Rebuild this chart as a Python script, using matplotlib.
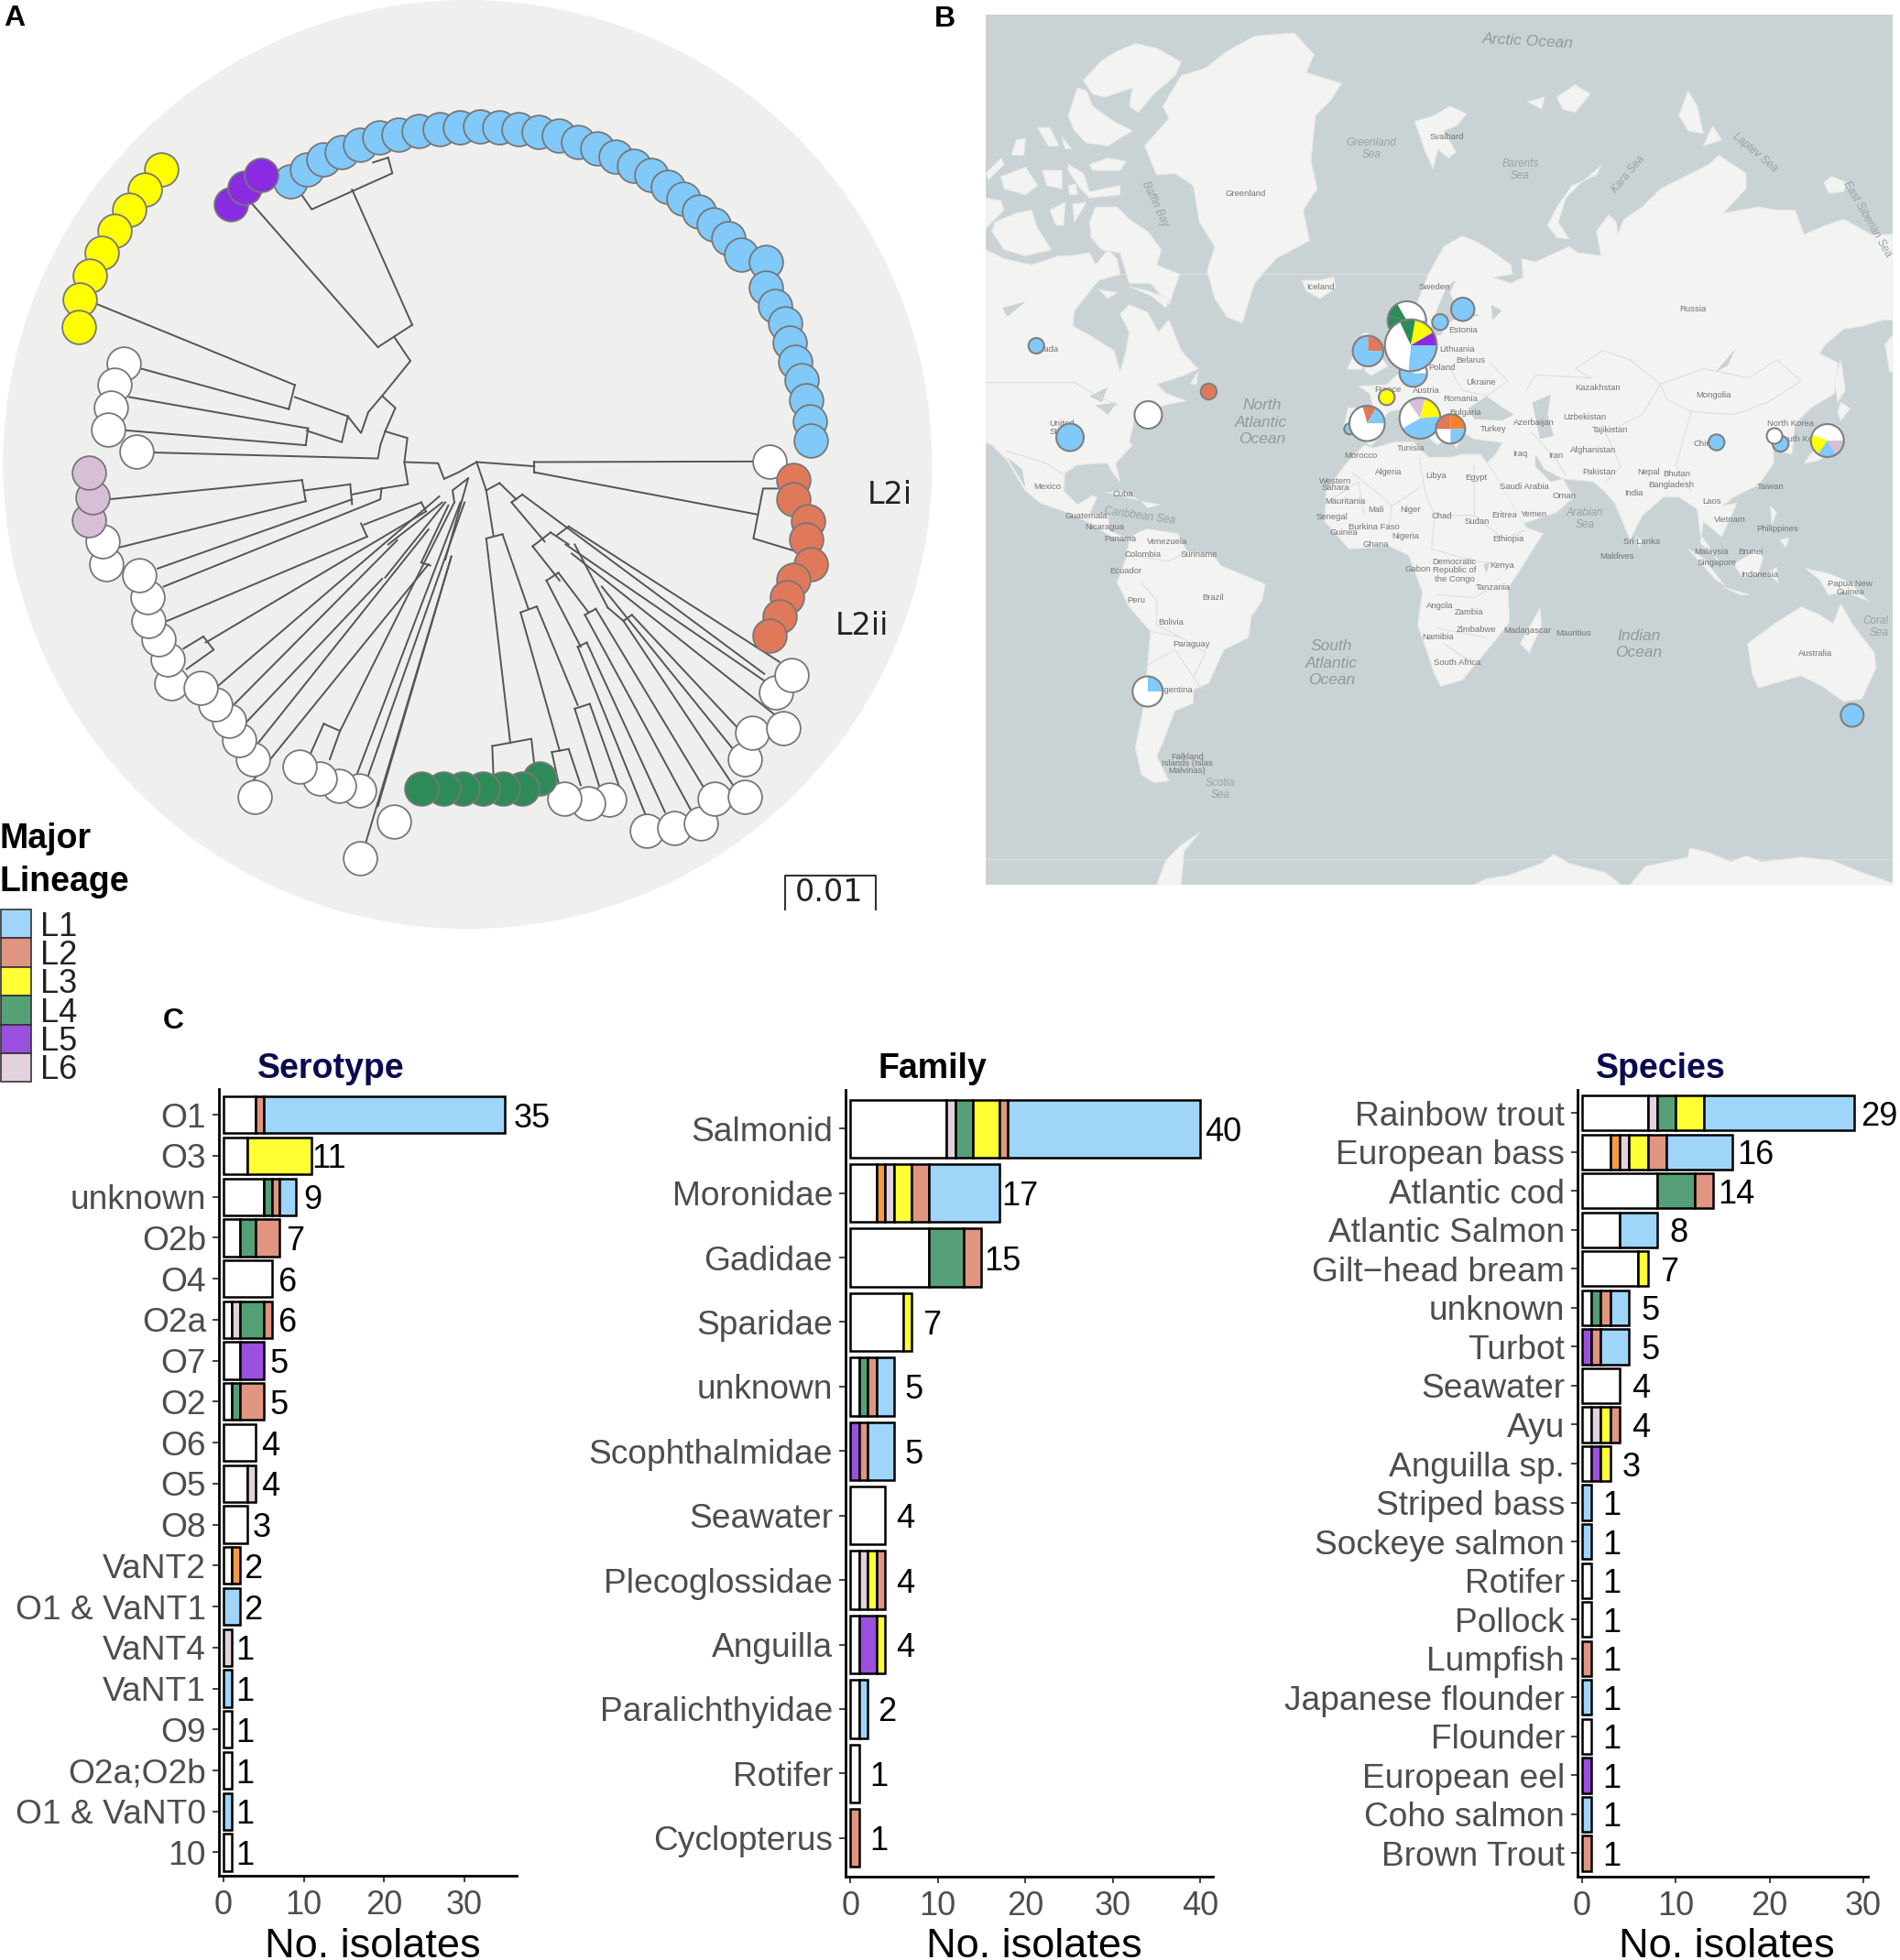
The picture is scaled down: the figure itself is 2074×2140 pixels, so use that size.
# %%
# Vibrio anguillarum style figure: tree, map and three stacked bar panels
import matplotlib
matplotlib.use('Agg')
import matplotlib.pyplot as plt
from matplotlib.patches import Circle, Polygon, Rectangle, Wedge

W, H = 2074, 2140
plt.rcParams['font.family'] = ['Liberation Sans', 'DejaVu Sans']

# %%
# Colours
tree_col = {'L1': '#81c9f9', 'L2': '#e0795a', 'L3': '#ffff00', 'L4': '#2e8b57',
            'L5': '#8a2be2', 'L6': '#d8bfd8', 'none': '#ffffff', 'orange': '#f5822a'}
bar_col = ['#ffffff', '#f79a44', '#e2d2de', '#9b50e0', '#55a077', '#ffff33', '#e09580', '#9fd5f9']
legend_names = ['L1', 'L2', 'L3', 'L4', 'L5', 'L6']
legend_cols = ['#9fd5f9', '#e09580', '#ffff33', '#55a077', '#9b50e0', '#e2d2de']

# %%
# Panel C data, stacks go white, orange, L6, L5, L4, L3, L2, L1
sero_names = ['O1', 'O3', 'unknown', 'O2b', 'O4', 'O2a', 'O7', 'O2', 'O6', 'O5', 'O8', 'VaNT2',
              'O1 & VaNT1', 'VaNT4', 'VaNT1', 'O9', 'O2a;O2b', 'O1 & VaNT0', '10']
sero_white = [4, 3, 5, 2, 6, 1, 2, 1, 4, 3, 3, 1, 0, 0, 0, 1, 1, 0, 1]
sero_orange = [0, 0, 0, 0, 0, 0, 0, 0, 0, 0, 0, 1, 0, 0, 0, 0, 0, 0, 0]
sero_l6 = [0, 0, 0, 0, 0, 1, 0, 0, 0, 1, 0, 0, 0, 1, 0, 0, 0, 0, 0]
sero_l5 = [0, 0, 0, 0, 0, 0, 3, 0, 0, 0, 0, 0, 0, 0, 0, 0, 0, 0, 0]
sero_l4 = [0, 0, 1, 2, 0, 3, 0, 1, 0, 0, 0, 0, 0, 0, 0, 0, 0, 0, 0]
sero_l3 = [0, 8, 0, 0, 0, 0, 0, 0, 0, 0, 0, 0, 0, 0, 0, 0, 0, 0, 0]
sero_l2 = [1, 0, 1, 3, 0, 1, 0, 3, 0, 0, 0, 0, 0, 0, 0, 0, 0, 0, 0]
sero_l1 = [30, 0, 2, 0, 0, 0, 0, 0, 0, 0, 0, 0, 2, 0, 1, 0, 0, 1, 0]

fam_names = ['Salmonid', 'Moronidae', 'Gadidae', 'Sparidae', 'unknown', 'Scophthalmidae', 'Seawater',
             'Plecoglossidae', 'Anguilla', 'Paralichthyidae', 'Rotifer', 'Cyclopterus']
fam_white = [11, 3, 9, 6, 1, 0, 4, 1, 1, 1, 1, 0]
fam_orange = [0, 1, 0, 0, 0, 0, 0, 0, 0, 0, 0, 0]
fam_l6 = [1, 1, 0, 0, 0, 0, 0, 1, 0, 0, 0, 0]
fam_l5 = [0, 0, 0, 0, 0, 1, 0, 0, 2, 0, 0, 0]
fam_l4 = [2, 0, 4, 0, 1, 0, 0, 0, 0, 0, 0, 0]
fam_l3 = [3, 2, 0, 1, 0, 0, 0, 1, 1, 0, 0, 0]
fam_l2 = [1, 2, 2, 0, 1, 1, 0, 1, 0, 0, 0, 1]
fam_l1 = [22, 8, 0, 0, 2, 3, 0, 0, 0, 1, 0, 0]

spec_names = ['Rainbow trout', 'European bass', 'Atlantic cod', 'Atlantic Salmon', 'Gilt\u2212head bream',
              'unknown', 'Turbot', 'Seawater', 'Ayu', 'Anguilla sp.', 'Striped bass', 'Sockeye salmon',
              'Rotifer', 'Pollock', 'Lumpfish', 'Japanese flounder', 'Flounder', 'European eel',
              'Coho salmon', 'Brown Trout']
spec_white = [7, 3, 8, 4, 6, 1, 0, 4, 1, 1, 0, 0, 1, 1, 0, 0, 1, 0, 0, 0]
spec_orange = [0, 1, 0, 0, 0, 0, 0, 0, 0, 0, 0, 0, 0, 0, 0, 0, 0, 0, 0, 0]
spec_l6 = [1, 1, 0, 0, 0, 0, 0, 0, 1, 0, 0, 0, 0, 0, 0, 0, 0, 0, 0, 0]
spec_l5 = [0, 0, 0, 0, 0, 0, 1, 0, 0, 1, 0, 0, 0, 0, 0, 0, 0, 1, 0, 0]
spec_l4 = [2, 0, 4, 0, 0, 1, 0, 0, 0, 0, 0, 0, 0, 0, 0, 0, 0, 0, 0, 0]
spec_l3 = [3, 2, 0, 0, 1, 0, 0, 0, 1, 1, 0, 0, 0, 0, 0, 0, 0, 0, 0, 0]
spec_l2 = [0, 2, 2, 0, 0, 1, 1, 0, 1, 0, 0, 0, 0, 0, 1, 0, 0, 0, 0, 1]
spec_l1 = [16, 7, 0, 4, 0, 2, 3, 0, 0, 0, 1, 1, 0, 0, 0, 1, 0, 0, 1, 0]

# %%
# Panel A tips
tips_l1_x = [482, 510, 538, 568, 598, 630, 662, 695, 731, 764, 797, 830, 862, 895, 928, 961, 992, 1023,
             1053, 1083, 1110, 1136, 1161, 1186, 1210, 1232, 1272, 1272, 1288, 1304, 1312, 1322, 1332,
             1340, 1345, 1347]
tips_l1_y = [302, 282, 265, 252, 240, 229, 224, 218, 214, 211, 210, 211, 215, 219, 226, 236, 247, 261,
             276, 291, 310, 330, 351, 373, 396, 423, 436, 478, 508, 538, 570, 601, 632, 665, 700, 733]
tips_l3_x = [268, 241, 215, 191, 169, 149, 133, 131]
tips_l3_y = [282, 315, 349, 384, 420, 458, 498, 543]
tips_l5_x = [384, 407, 434]
tips_l5_y = [340, 312, 291]
tips_l6_x = [148, 153, 148]
tips_l6_y = [864, 826, 786]
tips_l4_x = [897, 868, 835, 802, 769, 737, 701]
tips_l4_y = [1294, 1310, 1310, 1310, 1310, 1310, 1310]
tips_l2_x = [1318, 1318, 1343, 1340, 1347, 1318, 1307, 1296, 1278]
tips_l2_y = [798, 830, 866, 897, 937, 964, 993, 1024, 1056]
tips_none_x = [206, 190, 184, 179, 227, 176, 170, 284, 279, 264, 246, 245, 232, 420, 398, 380, 358, 334,
               423, 596, 563, 531, 498, 654, 598, 1013, 977, 937, 1075, 1120, 1165, 1187, 1237, 1237,
               1250, 1301, 1289, 1315, 1278]
tips_none_y = [604, 640, 678, 714, 750, 938, 900, 1136, 1096, 1062, 1032, 992, 956, 1262, 1230, 1198, 1170,
               1144, 1324, 1314, 1306, 1294, 1274, 1365, 1427, 1329, 1335, 1327, 1380, 1376, 1369, 1327,
               1325, 1262, 1218, 1211, 1151, 1122, 767]

tree_lines = [
    [(792, 768), (888, 775)], [(888, 768), (888, 785)], [(888, 768), (1255, 767)], [(888, 785), (1258, 855)],
    [(1292, 812), (1268, 812), (1252, 895), (1318, 915)],
    [(792, 768), (762, 785), (738, 796), (728, 770), (672, 768)],
    [(640, 717), (677, 728), (672, 768), (678, 805), (634, 812)],
    [(640, 717), (632, 740), (628, 762), (250, 752)],
    [(640, 717), (657, 678), (635, 658), (612, 685), (600, 720), (578, 692)],
    [(635, 658), (682, 600), (655, 560)],
    [(685, 540), (628, 577)], [(685, 540), (585, 315)], [(628, 577), (420, 340)],
    [(645, 262), (652, 288), (518, 348), (500, 322)], [(645, 262), (620, 270)], [(500, 322), (485, 320)],
    [(578, 692), (568, 735), (510, 716)], [(578, 692), (490, 660)], [(490, 640), (480, 680)],
    [(490, 640), (160, 505)], [(480, 680), (232, 612)],
    [(512, 712), (508, 740)], [(512, 712), (215, 660)], [(508, 740), (205, 715)],
    [(634, 812), (585, 822)], [(582, 805), (585, 838)], [(582, 805), (507, 815)],
    [(502, 798), (508, 833)], [(502, 798), (180, 830)], [(508, 833), (198, 910)],
    [(585, 830), (262, 945)], [(634, 812), (632, 830), (272, 975)],
    [(700, 835), (605, 872)], [(600, 870), (610, 892)], [(610, 892), (278, 1032)],
    [(700, 835), (708, 850), (342, 1068)],
    [(338, 1058), (355, 1080), (310, 1112)], [(338, 1058), (305, 1078)],
    [(730, 825), (360, 1142)],
    [(660, 898), (385, 1175)], [(735, 835), (645, 905)], [(635, 962), (405, 1205)],
    [(712, 880), (425, 1240)], [(740, 835), (640, 960)],
    [(745, 840), (700, 935)], [(712, 938), (420, 1298)], [(700, 935), (715, 940)],
    [(755, 835), (565, 1215)], [(538, 1203), (565, 1215), (548, 1262)], [(538, 1203), (515, 1255)],
    [(765, 835), (590, 1295)], [(772, 835), (608, 1300)], [(750, 925), (628, 1340)],
    [(778, 795), (752, 815), (755, 835)], [(778, 795), (740, 930)], [(750, 925), (608, 1400)],
    [(792, 768), (808, 815)], [(808, 815), (830, 803)], [(808, 815), (820, 890)],
    [(808, 895), (835, 888)], [(808, 895), (848, 1235)], [(835, 888), (878, 1012)],
    [(818, 1240), (883, 1228), (890, 1290)], [(818, 1240), (820, 1290)],
    [(865, 1018), (892, 1008)], [(865, 1018), (930, 1248)], [(892, 1008), (960, 1172)],
    [(917, 1250), (945, 1245)], [(917, 1250), (930, 1310)], [(945, 1245), (965, 1305)],
    [(955, 1178), (980, 1170)], [(955, 1178), (1000, 1320)], [(980, 1170), (1030, 1310)],
    [(830, 803), (858, 830)], [(850, 835), (868, 822)], [(868, 822), (1270, 1120)],
    [(850, 835), (905, 900)], [(885, 908), (915, 885)], [(885, 908), (930, 965)],
    [(915, 885), (945, 905)], [(945, 875), (1295, 1100)], [(940, 905), (1275, 1135)],
    [(945, 875), (925, 890)], [(908, 965), (928, 952)], [(908, 965), (965, 1075)],
    [(928, 952), (978, 1018)], [(960, 1075), (975, 1068)], [(960, 1075), (1075, 1360)],
    [(975, 1068), (1105, 1350)], [(972, 1022), (990, 1012)], [(972, 1022), (1150, 1350)],
    [(990, 1012), (1170, 1310)], [(1036, 1032), (1050, 1022)], [(1036, 1032), (1218, 1305)],
    [(1050, 1022), (1240, 1225)], [(1010, 1010), (1036, 1032)], [(1000, 975), (1222, 1250)],
    [(950, 920), (1290, 1190)], [(955, 905), (1010, 1010)],
]

# %%
# Panel B land outlines and place names
land = [
    # north america
    [(0, 770), (60, 800), (150, 820), (240, 790), (280, 790), (340, 780), (360, 820), (400, 770), (430, 800),
     (440, 850), (370, 870), (330, 920), (290, 970), (285, 1020), (340, 1050), (420, 1100), (440, 1170), (460, 1100),
     (470, 1040), (440, 980), (470, 950), (530, 975), (565, 1040), (600, 1000), (640, 1100), (695, 1160), (640, 1185),
     (560, 1210), (590, 1240), (655, 1265), (560, 1285), (490, 1310), (470, 1400), (480, 1410), (425, 1470), (440, 1530),
     (415, 1500), (400, 1470), (360, 1470), (300, 1475), (260, 1500), (255, 1560), (300, 1605), (350, 1575), (365, 1580),
     (340, 1635), (400, 1640), (405, 1690), (470, 1720), (410, 1710), (350, 1670), (280, 1635), (180, 1600), (130, 1560),
     (70, 1460), (20, 1410), (0, 1400)],
    # arctic canada
    [(320, 215), (380, 150), (430, 120), (490, 95), (560, 110), (640, 155), (620, 200), (550, 260), (500, 320), (470, 300),
     (480, 240), (390, 270), (350, 260)],
    [(270, 330), (300, 240), (330, 250), (350, 300), (420, 350), (480, 380), (400, 430), (330, 420), (290, 380)],
    [(340, 490), (400, 470), (460, 480), (440, 510), (350, 510)],
    [(270, 490), (320, 520), (340, 580), (440, 560), (440, 590), (340, 600), (310, 570), (270, 510)],
    [(170, 370), (210, 370), (240, 430), (205, 430)], [(100, 410), (130, 405), (125, 460), (85, 460)],
    [(0, 520), (50, 470), (60, 490), (10, 540)], [(50, 530), (130, 500), (170, 560), (130, 590), (60, 570)],
    [(185, 510), (250, 510), (250, 570), (200, 560)], [(270, 560), (295, 555), (300, 590), (275, 590)],
    [(250, 400), (280, 440), (260, 440)], [(0, 600), (50, 610), (60, 640), (0, 700)],
    [(30, 680), (100, 650), (150, 640), (170, 700), (215, 770), (130, 790), (60, 770), (20, 710)],
    [(210, 640), (260, 615), (255, 690), (230, 690)], [(285, 620), (330, 615), (290, 680)],
    [(340, 680), (360, 630), (430, 630), (470, 670), (530, 710), (575, 770), (560, 820), (635, 850), (600, 950),
     (540, 880), (470, 880), (440, 780), (380, 770), (345, 730)],
    [(370, 900), (430, 910), (400, 930)], [(470, 890), (530, 905), (600, 930), (590, 960), (540, 920)],
    [(670, 1210), (695, 1170), (690, 1210)],
    # greenland, iceland, svalbard and arctic russia
    [(580, 300), (640, 200), (720, 175), (790, 120), (880, 70), (1010, 60), (1075, 130), (1050, 190), (1165, 225),
     (1130, 280), (1080, 330), (1065, 480), (1085, 570), (1040, 640), (1060, 740), (950, 800), (880, 880), (840, 1010),
     (790, 990), (750, 930), (725, 840), (750, 760), (700, 680), (680, 560), (620, 520), (560, 525), (520, 430), (600, 340)],
    [(1035, 870), (1090, 870), (1140, 860), (1145, 895), (1095, 930), (1050, 905)],
    [(1405, 350), (1470, 330), (1520, 300), (1575, 325), (1540, 365), (1500, 380), (1540, 450), (1515, 470), (1480, 440),
     (1465, 505), (1440, 450)],
    [(1775, 285), (1830, 270), (1820, 310)], [(1870, 270), (1930, 230), (1980, 260), (1930, 320), (1890, 310)],
    [(2015, 495), (2000, 525), (1920, 560), (1870, 630), (1840, 690), (1870, 730), (1910, 735), (1875, 680), (1900, 600),
     (1950, 550)],
    [(2270, 330), (2300, 250), (2330, 300), (2350, 390), (2300, 380)], [(2350, 430), (2380, 365), (2410, 410)],
    [(2745, 550), (2770, 530), (2820, 550), (2810, 580), (2760, 585)],
    # eurasia
    [(1262, 1412), (1172, 1352), (1187, 1287), (1272, 1297), (1257, 1242), (1222, 1217), (1312, 1212), (1367, 1162),
     (1387, 1107), (1382, 1062), (1400, 1040), (1390, 1000), (1410, 950), (1450, 850), (1500, 760), (1560, 725),
     (1610, 745), (1650, 770), (1720, 820), (1725, 850), (1660, 860), (1720, 880), (1760, 860), (1755, 800), (1800, 810),
     (1910, 760), (1940, 780), (2015, 790), (2000, 710), (2040, 655), (2065, 680), (2070, 720), (2090, 670), (2150, 630),
     (2210, 570), (2290, 530), (2370, 490), (2400, 460), (2490, 520), (2490, 570), (2415, 650), (2530, 630), (2590, 640),
     (2650, 640), (2680, 720), (2750, 690), (2810, 670), (2900, 720), (2970, 720), (2970, 1000), (2940, 1000), (2870, 1020),
     (2810, 1030), (2750, 1080), (2730, 1110), (2790, 1140), (2780, 1240), (2700, 1290), (2650, 1340), (2640, 1440),
     (2600, 1430), (2590, 1370), (2560, 1360), (2580, 1410), (2580, 1470), (2530, 1540), (2450, 1580), (2410, 1610),
     (2460, 1600), (2410, 1710), (2350, 1660), (2340, 1730), (2400, 1790), (2340, 1700), (2330, 1620), (2270, 1580),
     (2220, 1580), (2150, 1640), (2110, 1720), (2060, 1600), (2025, 1560), (1990, 1530), (1890, 1520), (1925, 1580),
     (1870, 1630), (1750, 1670), (1660, 1490), (1640, 1470), (1670, 1440), (1692, 1402), (1600, 1390), (1565, 1370),
     (1540, 1420), (1510, 1350), (1440, 1300), (1500, 1390), (1480, 1410), (1420, 1360), (1370, 1290), (1320, 1300),
     (1290, 1340), (1300, 1370)],
    [(1232, 1047), (1252, 1042), (1302, 1132), (1317, 1152), (1262, 1182), (1242, 1167)],
    [(1184, 1162), (1202, 1122), (1237, 1142), (1232, 1162)],
    # africa
    [(1240, 1410), (1180, 1470), (1115, 1560), (1110, 1660), (1190, 1750), (1320, 1740), (1385, 1770), (1430, 1890),
     (1415, 2000), (1470, 2160), (1490, 2200), (1560, 2180), (1660, 2060), (1715, 1990), (1710, 1880), (1825, 1700),
     (1770, 1680), (1650, 1480), (1620, 1440), (1560, 1440), (1520, 1450), (1450, 1450), (1400, 1400), (1340, 1400),
     (1270, 1420)],
    [(1750, 2060), (1815, 1945), (1820, 2000), (1780, 2090)],
    [(2130, 1710), (2150, 1725), (2140, 1745)],
    # japan, sakhalin
    [(2970, 1050), (2945, 1080), (2960, 1170), (2970, 1170)], [(2800, 1130), (2815, 1230), (2790, 1270), (2780, 1200)],
    [(2800, 1270), (2830, 1290), (2800, 1330), (2790, 1300)],
    [(2790, 1350), (2800, 1400), (2730, 1460), (2680, 1470), (2700, 1440)],
    # south east asia and australia
    [(2570, 1610), (2590, 1630), (2575, 1670)], [(2600, 1720), (2630, 1715), (2620, 1745)],
    [(2450, 1800), (2530, 1750), (2545, 1780), (2530, 1830), (2480, 1845)],
    [(2300, 1750), (2350, 1780), (2420, 1870), (2390, 1850)], [(2415, 1875), (2500, 1900), (2470, 1900)],
    [(2560, 1830), (2590, 1810), (2595, 1860)],
    [(2685, 1815), (2760, 1830), (2830, 1860), (2890, 1920), (2810, 1890), (2760, 1900), (2730, 1850)],
    [(2495, 2060), (2590, 1990), (2670, 1940), (2730, 1965), (2775, 1995), (2800, 1930), (2840, 2000), (2910, 2090),
     (2915, 2140), (2870, 2240), (2810, 2250), (2740, 2200), (2670, 2165), (2530, 2205), (2510, 2160)],
    # caribbean, south america, antarctica
    [(395, 1565), (450, 1560), (500, 1590), (460, 1580)], [(510, 1595), (570, 1605), (530, 1615)],
    [(470, 1720), (500, 1695), (530, 1685), (630, 1700), (660, 1760), (740, 1765), (770, 1805), (915, 1865), (905, 1920),
     (870, 1970), (860, 2040), (780, 2080), (730, 2190), (680, 2210), (680, 2255), (620, 2280), (600, 2330), (580, 2385),
     (560, 2430), (600, 2510), (550, 2515), (510, 2490), (490, 2400), (515, 2280), (530, 2130), (540, 2020), (470, 1940),
     (430, 1860), (460, 1780)],
    [(700, 2680), (640, 2720), (590, 2770), (560, 2850), (640, 2850), (650, 2740)],
    [(1600, 2850), (1640, 2830), (1710, 2820), (1820, 2780), (1860, 2750), (1910, 2780), (2030, 2810), (2080, 2850)],
    [(2110, 2850), (2160, 2790), (2300, 2760), (2305, 2730), (2370, 2745), (2440, 2775), (2490, 2755), (2540, 2775),
     (2670, 2760), (2770, 2770), (2870, 2810), (2970, 2845), (2970, 2850)],
]
water = [
    [(1580, 1290), (1640, 1250), (1690, 1285), (1730, 1310), (1690, 1330), (1600, 1325)],
    [(1790, 1270), (1850, 1245), (1840, 1310), (1860, 1380), (1815, 1390), (1800, 1320)],
    [(1540, 870), (1510, 890), (1480, 960), (1450, 1050), (1490, 1050), (1505, 1020), (1530, 1000), (1620, 985),
     (1540, 960), (1520, 910)],
    [(1800, 1440), (1830, 1490), (1890, 1520), (1850, 1530), (1800, 1480)],
    [(70, 1450), (130, 1550), (120, 1490)],
    [(2390, 1170), (2455, 1095), (2430, 1150)],
    [(55, 960), (130, 940), (70, 990)],
    [(1655, 950), (1690, 970), (1660, 1000)],
    [(340, 1250), (400, 1220), (380, 1270)], [(360, 1280), (430, 1270), (400, 1310)],
    [(1630, 1800), (1650, 1795), (1640, 1830)],
]
borders = [
    [(0, 1205), (290, 1205), (350, 1240), (430, 1280)], [(70, 1430), (200, 1470), (260, 1510)],
    [(1985, 1190), (1930, 1160), (2020, 1100), (2110, 1130), (2210, 1210)],
    [(2210, 1210), (2350, 1160), (2500, 1190), (2590, 1130), (2670, 1200), (2560, 1270), (2450, 1310), (2310, 1300),
     (2230, 1260), (2210, 1210)],
    [(1985, 1190), (1800, 1180), (1770, 1230)], [(1650, 1140), (1710, 1200), (1640, 1250), (1560, 1230), (1520, 1160)],
    [(2210, 1210), (2150, 1310), (2030, 1370), (2080, 1480), (2030, 1530)], [(2310, 1300), (2260, 1480), (2310, 1560)],
    [(1790, 1370), (1870, 1460), (1900, 1510)],
    [(510, 1860), (560, 1920), (560, 2000), (640, 2040), (720, 2090), (680, 2170), (710, 2210)],
    [(470, 1770), (600, 1790), (660, 1760)], [(530, 2130), (620, 2080), (680, 2170)], [(540, 2020), (640, 2040)],
    [(1200, 1500), (1300, 1580), (1330, 1610), (1320, 1680)], [(1420, 1550), (1330, 1610)], [(1220, 1530), (1240, 1640)],
    [(1420, 1450), (1440, 1570), (1470, 1640), (1600, 1640), (1600, 1480)], [(1115, 1600), (1220, 1530)],
    [(1470, 1640), (1460, 1750), (1600, 1790), (1700, 1800)], [(1600, 1640), (1700, 1720), (1760, 1690)],
    [(1480, 1900), (1600, 1910), (1650, 1880)], [(1480, 2010), (1640, 2040)], [(1500, 2060), (1590, 2120)],
]
ocean_labels = [('Arctic Ocean', 1775, 88, -3), ('North', 905, 1280, 0), ('Atlantic', 900, 1335, 0), ('Ocean', 905, 1390, 0),
                ('South', 1133, 2070, 0), ('Atlantic', 1133, 2125, 0), ('Ocean', 1133, 2180, 0), ('Indian', 2138, 2035, 0),
                ('Ocean', 2138, 2090, 0)]
sea_labels = [('Arabian', 1962, 1632, 0), ('Sea', 1962, 1672, 0), ('Scotia', 768, 2517, 0), ('Sea', 768, 2557, 0),
              ('Greenland', 1263, 420, 0), ('Sea', 1263, 458, 0), ('Barents', 1750, 490, 0), ('Sea', 1750, 528, 0),
              ('Caribbean Sea', 505, 1642, -8), ('Baffin Bay', 555, 620, -65), ('Kara Sea', 2105, 522, 50),
              ('Laptev Sea', 2520, 450, -40), ('East Siberian Sea', 2885, 670, -60), ('Coral', 2915, 1985, 0),
              ('Sea', 2925, 2025, 0)]
place_labels = [('Greenland', 852, 586), ('Iceland', 1095, 892), ('Sweden', 1470, 892), ('Russia', 2315, 963),
                ('Kazakhstan', 2005, 1223), ('Mongolia', 2383, 1245), ('Ukraine', 1622, 1205), ('Belarus', 1588, 1133),
                ('Lithuania', 1545, 1097), ('Estonia', 1563, 1033), ('Poland', 1495, 1158), ('Romania', 1555, 1260),
                ('Turkey', 1663, 1357), ('Uzbekistan', 1960, 1320), ('Tajikistan', 2045, 1360), ('Azerbaijan', 1795, 1338),
                ('Afghanistan', 1990, 1427), ('Iraq', 1750, 1437), ('Iran', 1867, 1443), ('Pakistan', 2008, 1497),
                ('Nepal', 2170, 1497), ('Bhutan', 2262, 1505), ('Bangladesh', 2246, 1542), ('India', 2123, 1567),
                ('Egypt', 1607, 1518), ('Libya', 1475, 1510), ('Saudi Arabia', 1763, 1545), ('Oman', 1895, 1575),
                ('Yemen', 1795, 1638), ('Eritrea', 1698, 1640), ('Sudan', 1610, 1660), ('Chad', 1492, 1643),
                ('Ethiopia', 1710, 1717), ('Kenya', 1692, 1803), ('Tanzania', 1660, 1875), ('Democratic', 1535, 1792),
                ('Republic of', 1535, 1820), ('the Congo', 1535, 1850), ('Angola', 1488, 1938), ('Zambia', 1582, 1958),
                ('Zimbabwe', 1608, 2016), ('Namibia', 1480, 2040), ('South Africa', 1545, 2123), ('Madagascar', 1775, 2018),
                ('Mauritius', 1925, 2028), ('Sri Lanka', 2148, 1727), ('Maldives', 2068, 1775), ('Laos', 2378, 1593),
                ('Vietnam', 2438, 1655), ('Philippines', 2592, 1683), ('Malaysia', 2375, 1760), ('Singapore', 2395, 1795),
                ('Brunei', 2505, 1760), ('Indonesia', 2535, 1833), ('Papua New', 2830, 1863), ('Guinea', 2830, 1892),
                ('Australia', 2716, 2092), ('Taiwan', 2570, 1548), ('Morocco', 1227, 1445), ('Tunisia', 1393, 1422),
                ('Algeria', 1318, 1498), ('Western', 1145, 1527), ('Sahara', 1145, 1550), ('Mauritania', 1178, 1595),
                ('Mali', 1277, 1621), ('Niger', 1390, 1621), ('Senegal', 1133, 1645), ('Burkina Faso', 1273, 1678),
                ('Guinea', 1173, 1695), ('Nigeria', 1375, 1707), ('Ghana', 1277, 1735), ('Gabon', 1415, 1815),
                ('Mexico', 203, 1547), ('Cuba', 450, 1570), ('Guatemala', 330, 1641), ('Nicaragua', 390, 1678),
                ('Panama', 440, 1717), ('Venezuela', 593, 1727), ('Colombia', 515, 1768), ('Suriname', 697, 1770),
                ('Ecuador', 458, 1821), ('Peru', 493, 1917), ('Brazil', 743, 1910), ('Bolivia', 608, 1991),
                ('Paraguay', 672, 2063), ('Argentina', 620, 2211), ('Falkland', 660, 2431), ('Islands (Islas', 660, 2454),
                ('Malvinas)', 660, 2476), ('Svalbard', 1510, 400), ('France', 1317, 1229), ('Austria', 1442, 1232),
                ('Bulgaria', 1570, 1304), ('United', 250, 1340), ('States', 250, 1365), ('Canada', 190, 1097),
                ('China', 2355, 1405), ('North Korea', 2635, 1340), ('South Korea', 2670, 1392)]

# %%
# Panel B pies: centre, radius, first angle (clockwise from 12 o'clock) and slices in degrees
pie_x = [1535.7, 1542.7, 1473.3, 1540, 1493.3, 1596.7, 1572, 1513.7, 1492.3, 1550, 1583.3, 1131.2, 1168,
         1253.4, 1319.4, 1252.8, 1873.7, 1943.6, 1937, 1994.7, 2021.8]
pie_y = [350, 407.3, 468.3, 377, 383.3, 337.7, 351.7, 433.7, 462.3, 456.7, 468.3, 377.5, 477.5, 453, 427.5,
         755, 483, 484.4, 476, 481, 781]
pie_r = [21, 15, 6, 28.3, 16.7, 12.7, 8.7, 8.7, 19.3, 22.3, 16, 8.5, 15, 15, 8.7, 16.5, 8.7, 8.7, 8.5, 18, 12.5]
pie_start = [-75, 90, 0, -25, 0, 0, 0, 0, -15, -35, 0, 0, 0, 0, 0, 0, 0, 0, 0, -70, 0]
pie_parts = [
    [('L4', 45), ('none', 120), ('L1', 60), ('L2', 15), ('L4', 120)],
    [('L1', 210), ('none', 150)], [('L1', 360)],
    [('L4', 35), ('L3', 50), ('L5', 30), ('L1', 95), ('none', 150)],
    [('L2', 90), ('L1', 270)], [('L1', 360)], [('L1', 360)], [('L3', 360)],
    [('L2', 45), ('L1', 60), ('none', 255)],
    [('L6', 50), ('L3', 70), ('L1', 155), ('none', 85)],
    [('orange', 90), ('L1', 90), ('none', 90), ('L2', 90)],
    [('L1', 360)], [('L1', 360)], [('none', 360)], [('L2', 360)],
    [('L1', 90), ('none', 270)], [('L1', 360)], [('L1', 360)], [('none', 360)],
    [('none', 160), ('L6', 60), ('L1', 65), ('L3', 75)], [('L1', 360)],
]


# %%
def add_ax(x0, y0, x1, y1):
    return fig.add_axes([x0 / W, 1 - y1 / H, (x1 - x0) / W, (y1 - y0) / H])


fig = plt.figure(figsize=(W / 100, H / 100), dpi=100)

# %%
# Panel A
ax_a = add_ax(0, 0, 1030, 1030)
ax_a.set_xlim(0, 1568)
ax_a.set_ylim(1568, 0)
ax_a.axis('off')
ax_a.add_patch(Circle((777, 772), 772, fc='#efefee', ec='none', zorder=0))
for seg in tree_lines:
    ax_a.plot([p[0] for p in seg], [p[1] for p in seg], color='#555555', lw=1.4, zorder=1,
              solid_joinstyle='miter')
tip_sets = [(tips_none_x, tips_none_y, 'none'), (tips_l1_x, tips_l1_y, 'L1'), (tips_l2_x, tips_l2_y, 'L2'),
            (tips_l3_x, tips_l3_y, 'L3'), (tips_l4_x, tips_l4_y, 'L4'), (tips_l5_x, tips_l5_y, 'L5'),
            (tips_l6_x, tips_l6_y, 'L6')]
for xs, ys, name in tip_sets:
    ax_a.scatter(xs, ys, s=700, c=tree_col[name], edgecolors='#777777', linewidths=1.3, zorder=2)
ax_a.text(1478, 823, 'L2i', fontsize=24, family='DejaVu Sans', color='#222222', ha='center', va='center')
ax_a.text(1432, 1040, 'L2ii', fontsize=24, family='DejaVu Sans', color='#222222', ha='center', va='center')
ax_a.plot([1304, 1304, 1455, 1455], [1512, 1455, 1455, 1512], color='#333333', lw=1.5)
ax_a.text(1377, 1484, '0.01', fontsize=24, family='DejaVu Sans', color='#222222', ha='center', va='center')

# %%
# Panel B, one map unit is a third of a pixel
ax_b = add_ax(1076, 16, 2066, 966)
ax_b.set_xlim(0, 2970)
ax_b.set_ylim(2850, 0)
ax_b.set_xticks([])
ax_b.set_yticks([])
for s in ax_b.spines.values():
    s.set_visible(False)
ax_b.set_facecolor('#c9d2d4')
for poly in land:
    ax_b.add_patch(Polygon(poly, closed=True, fc='#f3f3f2', ec='#e6e8e8', lw=0.8, joinstyle='round'))
for poly in water:
    ax_b.add_patch(Polygon(poly, closed=True, fc='#c9d2d4', ec='none'))
for seg in borders:
    ax_b.plot([p[0] for p in seg], [p[1] for p in seg], color='#dfe0e0', lw=0.9)
for v in [850, 2765]:
    ax_b.axhline(v, color='#dbe0e1', lw=0.7, zorder=0.5)
for name, x, y, rot in ocean_labels:
    ax_b.text(x, y, name, fontsize=12.5, style='italic', color='#8f9a9c', ha='center', va='center', rotation=rot)
for name, x, y, rot in sea_labels:
    ax_b.text(x, y, name, fontsize=8.5, style='italic', color='#98a3a5', ha='center', va='center', rotation=rot,
              clip_on=True)
for name, x, y in place_labels:
    ax_b.text(x, y, name, fontsize=6.8, color='#747474', ha='center', va='center')

# %%
# Overlay in figure pixels for the pies, legend, letters and titles. y runs downwards so angles go clockwise.
ax_o = add_ax(0, 0, W, H)
ax_o.set_xlim(0, W)
ax_o.set_ylim(H, 0)
ax_o.axis('off')
ax_o.patch.set_alpha(0)
for x, y, r, start, parts in zip(pie_x, pie_y, pie_r, pie_start, pie_parts):
    a = start - 90
    for name, deg in parts:
        ax_o.add_patch(Wedge((x, y), r, a, a + deg, fc=tree_col[name], ec='none'))
        a += deg
    ax_o.add_patch(Circle((x, y), r, fc='none', ec='#7f7f7f', lw=1.5))

ax_o.text(4, 20, 'A', fontsize=23, fontweight='bold', va='center')
ax_o.text(1020, 21, 'B', fontsize=23, fontweight='bold', va='center')
ax_o.text(178, 1115, 'C', fontsize=23, fontweight='bold', va='center')
ax_o.text(0, 916, 'Major', fontsize=27, fontweight='bold', va='center')
ax_o.text(0, 963, 'Lineage', fontsize=27, fontweight='bold', va='center')
for i, (name, col) in enumerate(zip(legend_names, legend_cols)):
    y = 993 + i * 31.4
    ax_o.add_patch(Rectangle((1, y), 33, 31.4, fc=col, ec='#333333', lw=1.2))
    ax_o.text(44, y + 19, name, fontsize=26, color='#222222', va='center')

ax_o.text(361, 1167, 'Serotype', fontsize=27, fontweight='bold', color='#0a0a50', ha='center', va='center')
ax_o.text(1018, 1167, 'Family', fontsize=27, fontweight='bold', color='black', ha='center', va='center')
ax_o.text(1813, 1167, 'Species', fontsize=27, fontweight='bold', color='#0a0a50', ha='center', va='center')
for x in [407, 1129, 1885]:
    ax_o.text(x, 2137, 'No. isolates', fontsize=32.5, color='black', ha='center', va='baseline', clip_on=False)


# %%
# Panel C
def stacked(box, xlim, ylim, names, stacks, ticks, off, slope):
    ax = add_ax(*box)
    left = [0] * len(names)
    pos = list(range(len(names)))
    for vals, col in zip(stacks, bar_col):
        ax.barh(pos, vals, left=left, height=0.9, color=col, edgecolor=[('black' if v else 'none') for v in vals],
                linewidth=1.8)
        left = [a + b for a, b in zip(left, vals)]
    px = (box[2] - box[0]) / (xlim[1] - xlim[0])
    for p, t in zip(pos, left):
        ax.text(t + (off + slope * t) / px, p, str(t), fontsize=26, color='black', ha='center', va='center_baseline')
    ax.set_xlim(*xlim)
    ax.set_ylim(*ylim)
    ax.set_yticks(pos)
    ax.set_yticklabels(names)
    ax.set_xticks(ticks)
    ax.tick_params(axis='y', labelsize=26.7, labelcolor='#4d4d4d', length=5, width=1.3, color='#333333', pad=5)
    ax.tick_params(axis='x', labelsize=26, labelcolor='#4d4d4d', length=5, width=1.3, color='#333333', pad=6)
    ax.spines['top'].set_visible(False)
    ax.spines['right'].set_visible(False)
    ax.spines['left'].set_linewidth(2)
    ax.spines['bottom'].set_linewidth(2)
    ax.patch.set_alpha(0)
    return ax


stacked((239, 1189, 564, 2048), (-0.57, 36.5), (18.57, -0.63), sero_names,
        [sero_white, sero_orange, sero_l6, sero_l5, sero_l4, sero_l3, sero_l2, sero_l1], [0, 10, 20, 30], 14, 0.45)
stacked((923, 1190, 1324, 2049), (-0.55, 41.45), (11.6, -0.6), fam_names,
        [fam_white, fam_orange, fam_l6, fam_l5, fam_l4, fam_l3, fam_l2, fam_l1], [0, 10, 20, 30, 40], 21, 0.1)
stacked((1722, 1190, 2038.5, 2049), (-0.49, 30.45), (19.6, -0.59), spec_names,
        [spec_white, spec_orange, spec_l6, spec_l5, spec_l4, spec_l3, spec_l2, spec_l1], [0, 10, 20, 30], 22, 0.2)

fig.savefig('out.png', dpi=100)
